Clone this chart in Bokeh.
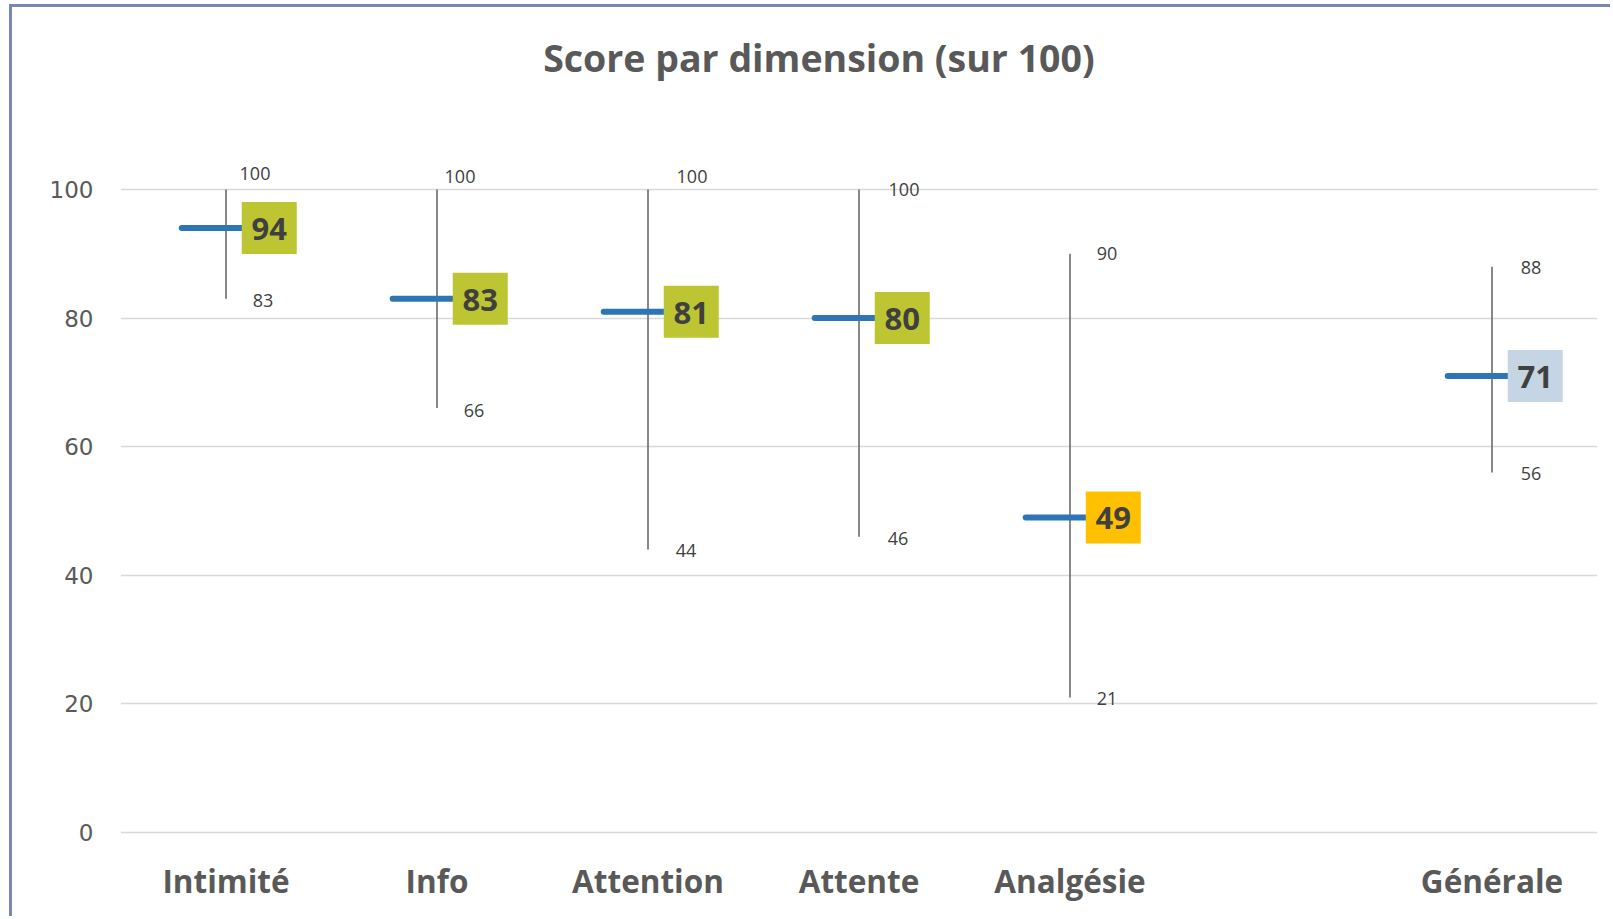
from bokeh.plotting import figure
from bokeh.models import Range1d, FixedTicker, Label, ColumnDataSource
from bokeh.core.properties import value
from bokeh.embed import file_html
from bokeh.resources import INLINE

# ---- data ----
categories = ["Intimité", "Info", "Attention", "Attente", "Analgésie", "Générale"]
slots = [0, 1, 2, 3, 4, 6]          # category slot (one empty slot before Générale)
means = [94, 83, 81, 80, 49, 71]
mins = [83, 66, 44, 46, 21, 56]
maxs = [100, 100, 100, 100, 90, 88]
box_colors = ["#BDC632", "#BDC632", "#BDC632", "#BDC632", "#FFC000", "#C5D5E3"]
y_ticks = [0, 20, 40, 60, 80, 100]
title = "Score par dimension (sur 100)"

# ---- label offsets (style, screen px) ----
max_dx = [29, 23, 44, 45, 37, 39]
max_dy = [-16, -13, -13, 0, 0, 1]
min_dx = [37, 37, 38, 39, 37, 39]
min_dy = [2, 2, 1, 2, 1, 1]

# ---- layout (canvas pixels) ----
W, H = 1601, 912
LEFT, RIGHT, BOTTOM = 108, 16, 77
Y100_PX, Y0_PX, FRAME_H = 182, 825, 835
ppu = (Y0_PX - Y100_PX) / 100.0
y_end = 100 + Y100_PX / ppu
y_start = -(FRAME_H - Y0_PX) / ppu

xc = [s + 0.5 for s in slots]

p = figure(width=W, height=H, output_backend="svg", toolbar_location=None,
           x_range=Range1d(0, 7), y_range=Range1d(y_start, y_end),
           min_border_left=LEFT, min_border_right=RIGHT, min_border_top=0,
           min_border_bottom=BOTTOM)
p.styles = {"border-top": "3px solid #7B86B5", "border-left": "3px solid #7B86B5",
            "margin-top": "4px", "margin-left": "9px"}
p.outline_line_color = None
p.background_fill_color = "white"
p.border_fill_color = "white"

# axes
p.xaxis.ticker = FixedTicker(ticks=xc)
p.xaxis.major_label_overrides = {x: c for x, c in zip(xc, categories)}
p.xaxis.axis_line_color = None
p.xaxis.major_tick_line_color = None
p.xaxis.minor_tick_line_color = None
p.xaxis.major_label_text_font = "Open Sans"
p.xaxis.major_label_text_font_style = "bold"
p.xaxis.major_label_text_font_size = "31.5px"
p.xaxis.major_label_text_color = "#595959"
p.xaxis.major_label_standoff = 10

p.yaxis.ticker = FixedTicker(ticks=y_ticks)
p.yaxis.axis_line_color = None
p.yaxis.major_tick_line_color = None
p.yaxis.minor_tick_line_color = None
p.yaxis.major_label_text_font = "DejaVu Sans"
p.yaxis.major_label_text_font_size = "23px"
p.yaxis.major_label_text_color = "#595959"
p.yaxis.major_label_standoff = 21

p.xgrid.grid_line_color = None
p.ygrid.ticker = FixedTicker(ticks=y_ticks)
p.ygrid.grid_line_color = "#D9D9D9"
p.ygrid.grid_line_width = 1.5

src = ColumnDataSource(dict(
    x=xc, mean=means, lo=mins, hi=maxs, col=box_colors,
    x0=[x - 0.21 for x in xc], x1=[x + 0.21 for x in xc],
    xb=[x + 0.205 for x in xc],
    mean_txt=[str(v) for v in means], lo_txt=[str(v) for v in mins],
    hi_txt=[str(v) for v in maxs],
    max_dx=max_dx, max_dy=max_dy, min_dx=min_dx, min_dy=min_dy,
))

# min-max vertical lines
p.segment(x0="x", y0="lo", x1="x", y1="hi", source=src, line_color="#606060", line_width=1.5)
# mean dash
p.segment(x0="x0", y0="mean", x1="x1", y1="mean", source=src, line_color="#2E75B6",
          line_width=6, line_cap="round")
# label boxes
p.rect(x="xb", y="mean", width=55, height=52, width_units="screen", height_units="screen",
       source=src, fill_color="col", line_color=None)
p.text(x="xb", y="mean", text="mean_txt", source=src, text_align="center",
       text_baseline="middle", text_font=value("Open Sans"), text_font_style="bold",
       text_font_size="31px", text_color="#404040", y_offset=1)
# min / max labels
p.text(x="x", y="hi", text="hi_txt", source=src, x_offset="max_dx", y_offset="max_dy",
       text_align="center", text_baseline="middle", text_font=value("Open Sans"),
       text_font_size="18px", text_color="#404040")
p.text(x="x", y="lo", text="lo_txt", source=src, x_offset="min_dx", y_offset="min_dy",
       text_align="center", text_baseline="middle", text_font=value("Open Sans"),
       text_font_size="18px", text_color="#404040")

# title
p.add_layout(Label(x=3.31, y=100 + (Y100_PX - 50) / ppu, text=title, text_align="center",
                   text_baseline="middle", text_font="Open Sans", text_font_style="bold",
                   text_font_size="37.5px", text_color="#595959"))

open("out.html", "w").write(file_html(p, INLINE))
